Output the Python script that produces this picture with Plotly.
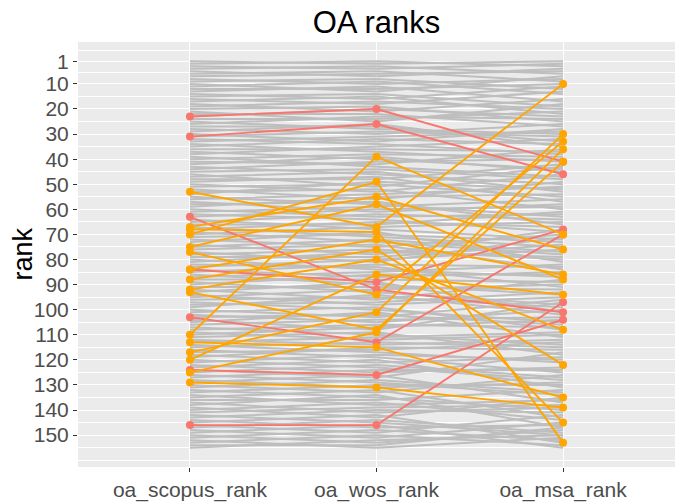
import plotly.graph_objects as go

categories = ["oa_scopus_rank", "oa_wos_rank", "oa_msa_rank"]
y_tick_vals = [1, 10, 20, 30, 40, 50, 60, 70, 80, 90, 100, 110, 120, 130, 140, 150]
y_minor_vals = [-3.5, 5.5, 15, 25, 35, 45, 55, 65, 75, 85, 95, 105, 115, 125, 135, 145, 155, 160]

# background (all journals) ranks
gray_scopus = [1, 2, 3, 4, 5, 6, 7, 8, 9, 10,
               11, 12, 13, 14, 15, 16, 17, 18, 19, 20,
               21, 22, 23, 24, 25, 26, 27, 28, 29, 30,
               31, 32, 33, 34, 35, 36, 37, 38, 39, 40,
               41, 42, 43, 44, 45, 46, 47, 48, 49, 50,
               51, 52, 53, 54, 55, 56, 57, 58, 59, 60,
               61, 62, 63, 64, 65, 66, 67, 68, 69, 70,
               71, 72, 73, 74, 75, 76, 77, 78, 79, 80,
               81, 82, 83, 84, 85, 86, 87, 88, 89, 90,
               91, 92, 93, 94, 95, 96, 97, 98, 99, 100,
               101, 102, 103, 104, 105, 106, 107, 108, 109, 110,
               111, 112, 113, 114, 115, 116, 117, 118, 119, 120,
               121, 122, 123, 124, 125, 126, 127, 128, 129, 130,
               131, 132, 133, 134, 135, 136, 137, 138, 139, 140,
               141, 142, 143, 144, 145, 146, 147, 148, 149, 150,
               151, 152, 153, 154, 155]
gray_wos = [2, 1, 4, 3, 7, 5, 6, 10, 8, 13,
            9, 12, 11, 16, 14, 18, 15, 21, 17, 19,
            25, 22, 20, 24, 28, 23, 27, 30, 26, 33,
            29, 34, 31, 37, 32, 36, 40, 35, 43, 38,
            42, 39, 46, 41, 44, 51, 45, 48, 47, 53,
            50, 56, 52, 49, 58, 54, 61, 57, 55, 63,
            59, 64, 60, 68, 62, 66, 71, 65, 73, 67,
            70, 75, 69, 78, 72, 74, 81, 76, 79, 84,
            77, 83, 80, 87, 82, 90, 85, 88, 93, 86,
            91, 96, 89, 98, 92, 95, 100, 97, 94, 103,
            99, 105, 102, 108, 101, 104, 110, 106, 112, 107,
            109, 114, 111, 117, 113, 119, 116, 121, 115, 123,
            118, 125, 120, 127, 122, 129, 124, 131, 126, 133,
            128, 135, 130, 138, 132, 136, 141, 134, 143, 137,
            139, 145, 140, 147, 142, 149, 144, 151, 146, 153,
            148, 155, 150, 154, 152]
gray_msa = [1, 3, 2, 6, 4, 9, 5, 8, 12, 7,
            14, 10, 17, 11, 19, 13, 22, 16, 20, 25,
            18, 27, 23, 21, 30, 24, 33, 26, 35, 28,
            31, 38, 29, 41, 34, 37, 44, 32, 47, 39,
            36, 45, 50, 40, 48, 43, 53, 42, 57, 46,
            55, 49, 60, 52, 63, 51, 58, 66, 54, 62,
            56, 69, 59, 72, 64, 61, 75, 67, 78, 65,
            73, 70, 81, 68, 77, 84, 71, 80, 74, 87,
            79, 91, 76, 85, 83, 94, 82, 89, 98, 86,
            92, 88, 101, 95, 90, 99, 105, 93, 102, 96,
            108, 100, 106, 97, 111, 103, 114, 107, 110, 104,
            118, 112, 109, 121, 115, 125, 113, 119, 116, 128,
            120, 123, 131, 117, 127, 134, 124, 129, 137, 126,
            133, 140, 130, 136, 143, 132, 139, 147, 135, 144,
            138, 150, 141, 146, 153, 142, 149, 145, 155, 148,
            152, 151, 154, 147, 150]

# highlighted journals (red group)
red_scopus = [23, 31, 63, 84, 103, 124, 146]
red_wos = [20, 26, 92, 89, 113, 126, 146]
red_msa = [41, 46, 101, 68, 70, 104, 97]

# highlighted journals (orange group)
orange_scopus = [110, 70, 67, 75, 53, 68, 84, 88, 92, 120, 77, 117, 93, 125, 113, 129]
orange_wos = [39, 49, 55, 58, 67, 69, 72, 76, 80, 86, 94, 101, 108, 109, 115, 131]
orange_msa = [70, 153, 76, 88, 10, 145, 86, 122, 108, 94, 33, 30, 41, 36, 135, 139]


def segments(a, b, c):
    xs, ys = [], []
    for s, w, m in zip(a, b, c):
        xs += categories + [None]
        ys += [s, w, m, None]
    return xs, ys


fig = go.Figure()

gx, gy = segments(gray_scopus, gray_wos, gray_msa)
fig.add_trace(go.Scatter(x=gx, y=gy, mode="lines",
                         line=dict(color="#BEBEBE", width=2),
                         hoverinfo="skip", showlegend=False))

rx, ry = segments(red_scopus, red_wos, red_msa)
fig.add_trace(go.Scatter(x=rx, y=ry, mode="lines+markers",
                         line=dict(color="#F8766D", width=1.9),
                         marker=dict(color="#F8766D", size=8),
                         showlegend=False))

ox, oy = segments(orange_scopus, orange_wos, orange_msa)
fig.add_trace(go.Scatter(x=ox, y=oy, mode="lines+markers",
                         line=dict(color="#FFA500", width=1.9),
                         marker=dict(color="#FFA500", size=8),
                         showlegend=False))

font_family = "Liberation Sans, Arial, sans-serif"

fig.update_layout(
    width=675, height=502,
    margin=dict(l=78, r=0, t=42, b=27),
    paper_bgcolor="white",
    plot_bgcolor="#EBEBEB",
    font=dict(family=font_family, color="#4D4D4D", size=21),
    title=dict(text="OA ranks", x=0.5, xref="paper", xanchor="center",
               y=1 - 22 / 502, yref="container", yanchor="middle",
               font=dict(size=31, color="black", family=font_family)),
    xaxis=dict(type="category", categoryorder="array", categoryarray=categories,
               range=[-0.6, 2.6], showgrid=True, gridcolor="white", gridwidth=1.4,
               zeroline=False, showline=False, ticks="outside", ticklen=4,
               tickcolor="#333333", tickwidth=1,
               tickfont=dict(size=21, color="#4D4D4D")),
    yaxis=dict(range=[162.7, -6.7], tickmode="array", tickvals=y_tick_vals,
               ticktext=[str(v) for v in y_tick_vals],
               showgrid=True, gridcolor="white", gridwidth=1.4,
               zeroline=False, showline=False, ticks="outside", ticklen=4,
               tickcolor="#333333", tickwidth=1,
               tickfont=dict(size=21, color="#4D4D4D"),
               minor=dict(tickmode="array", tickvals=y_minor_vals, showgrid=True,
                          gridcolor="white", gridwidth=0.7, ticks="")),
    annotations=[dict(text="rank", textangle=-90, xref="paper", yref="paper",
                      x=(22 - 78) / 597, y=0.5, xanchor="center", yanchor="middle",
                      showarrow=False, font=dict(size=27, color="black", family=font_family))],
)

fig.write_html("out.html",
               config={"displayModeBar": False},
               post_script="document.body.style.margin='0px';document.body.style.overflow='hidden';")
